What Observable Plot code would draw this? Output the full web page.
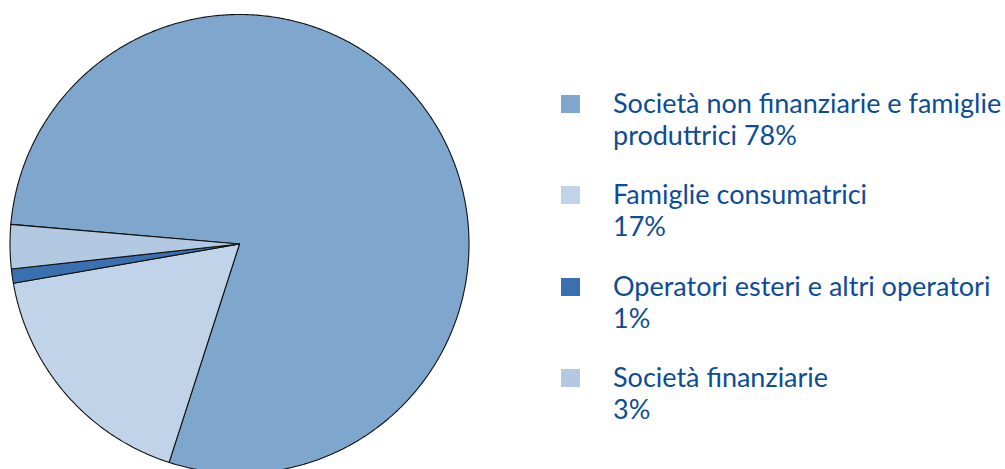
<!DOCTYPE html>
<html>
<head>
<meta charset="utf-8">
<script src="https://cdn.jsdelivr.net/npm/d3@7"></script>
<script src="https://cdn.jsdelivr.net/npm/@observablehq/plot@0.6"></script>
<style>
  html, body { margin: 0; padding: 0; background: #fff; overflow: hidden; }
  #wrap { position: relative; width: 1005px; height: 469px; }
  #chart svg { display: block; }
  .row { position: absolute; left: 561px; }
  .sw { position: absolute; left: 0; width: 19px; height: 18px; }
  .lbl { position: absolute; left: 52px; white-space: nowrap; font-family: Lato, "Noto Sans", sans-serif;
         font-size: 27px; line-height: 32px; color: #0d4c97; }
</style>
</head>
<body>
<div id="wrap"><div id="chart"></div></div>
<script>
const categories = [
  "Società non finanziarie e famiglie produttrici",
  "Famiglie consumatrici",
  "Operatori esteri e altri operatori",
  "Società finanziarie"
];
const shares = [78.6, 17.3, 1.0, 3.1];
const legendLines = [
  ["Società non finanziarie e famiglie", "produttrici 78%"],
  ["Famiglie consumatrici", "17%"],
  ["Operatori esteri e altri operatori", "1%"],
  ["Società finanziarie", "3%"]
];
const colors = ["#7fa6cd", "#c0d3e8", "#3a70b0", "#b3c9e1"];
const startDeg = -85.1;

// build slice outlines (clockwise from 12 o'clock)
const total = d3.sum(shares);
const pts = [];
let acc = startDeg * Math.PI / 180;
shares.forEach((v, i) => {
  const a0 = acc, a1 = acc + v / total * 2 * Math.PI;
  acc = a1;
  const n = Math.max(2, Math.ceil((a1 - a0) / (Math.PI / 360)));
  pts.push({cat: categories[i], x: 0, y: 0});
  for (let k = 0; k <= n; k++) {
    const a = a0 + (a1 - a0) * k / n;
    pts.push({cat: categories[i], x: Math.sin(a), y: Math.cos(a)});
  }
  pts.push({cat: categories[i], x: 0, y: 0});
});

const chart = Plot.plot({
  width: 1005,
  height: 469,
  margin: 0,
  x: {domain: [-1, 1], range: [9.5, 468.5], axis: null},
  y: {domain: [-1, 1], range: [473, 14], axis: null},
  color: {domain: categories, range: colors},
  marks: [
    Plot.line(pts, {x: "x", y: "y", z: "cat", fill: "cat", stroke: "#111", strokeWidth: 1.1, curve: "linear", strokeLinejoin: "round"})
  ]
});
document.getElementById("chart").appendChild(chart);

const wrap = document.getElementById("wrap");
categories.forEach((c, i) => {
  const row = document.createElement("div");
  row.className = "row";
  row.style.top = (95 + i * 91.3) + "px";
  const sw = document.createElement("div");
  sw.className = "sw";
  sw.style.background = colors[i];
  row.appendChild(sw);
  const lbl = document.createElement("div");
  lbl.className = "lbl";
  lbl.style.top = "-8px";
  lbl.innerHTML = legendLines[i].join("<br>");
  row.appendChild(lbl);
  wrap.appendChild(row);
});
</script>
</body>
</html>
